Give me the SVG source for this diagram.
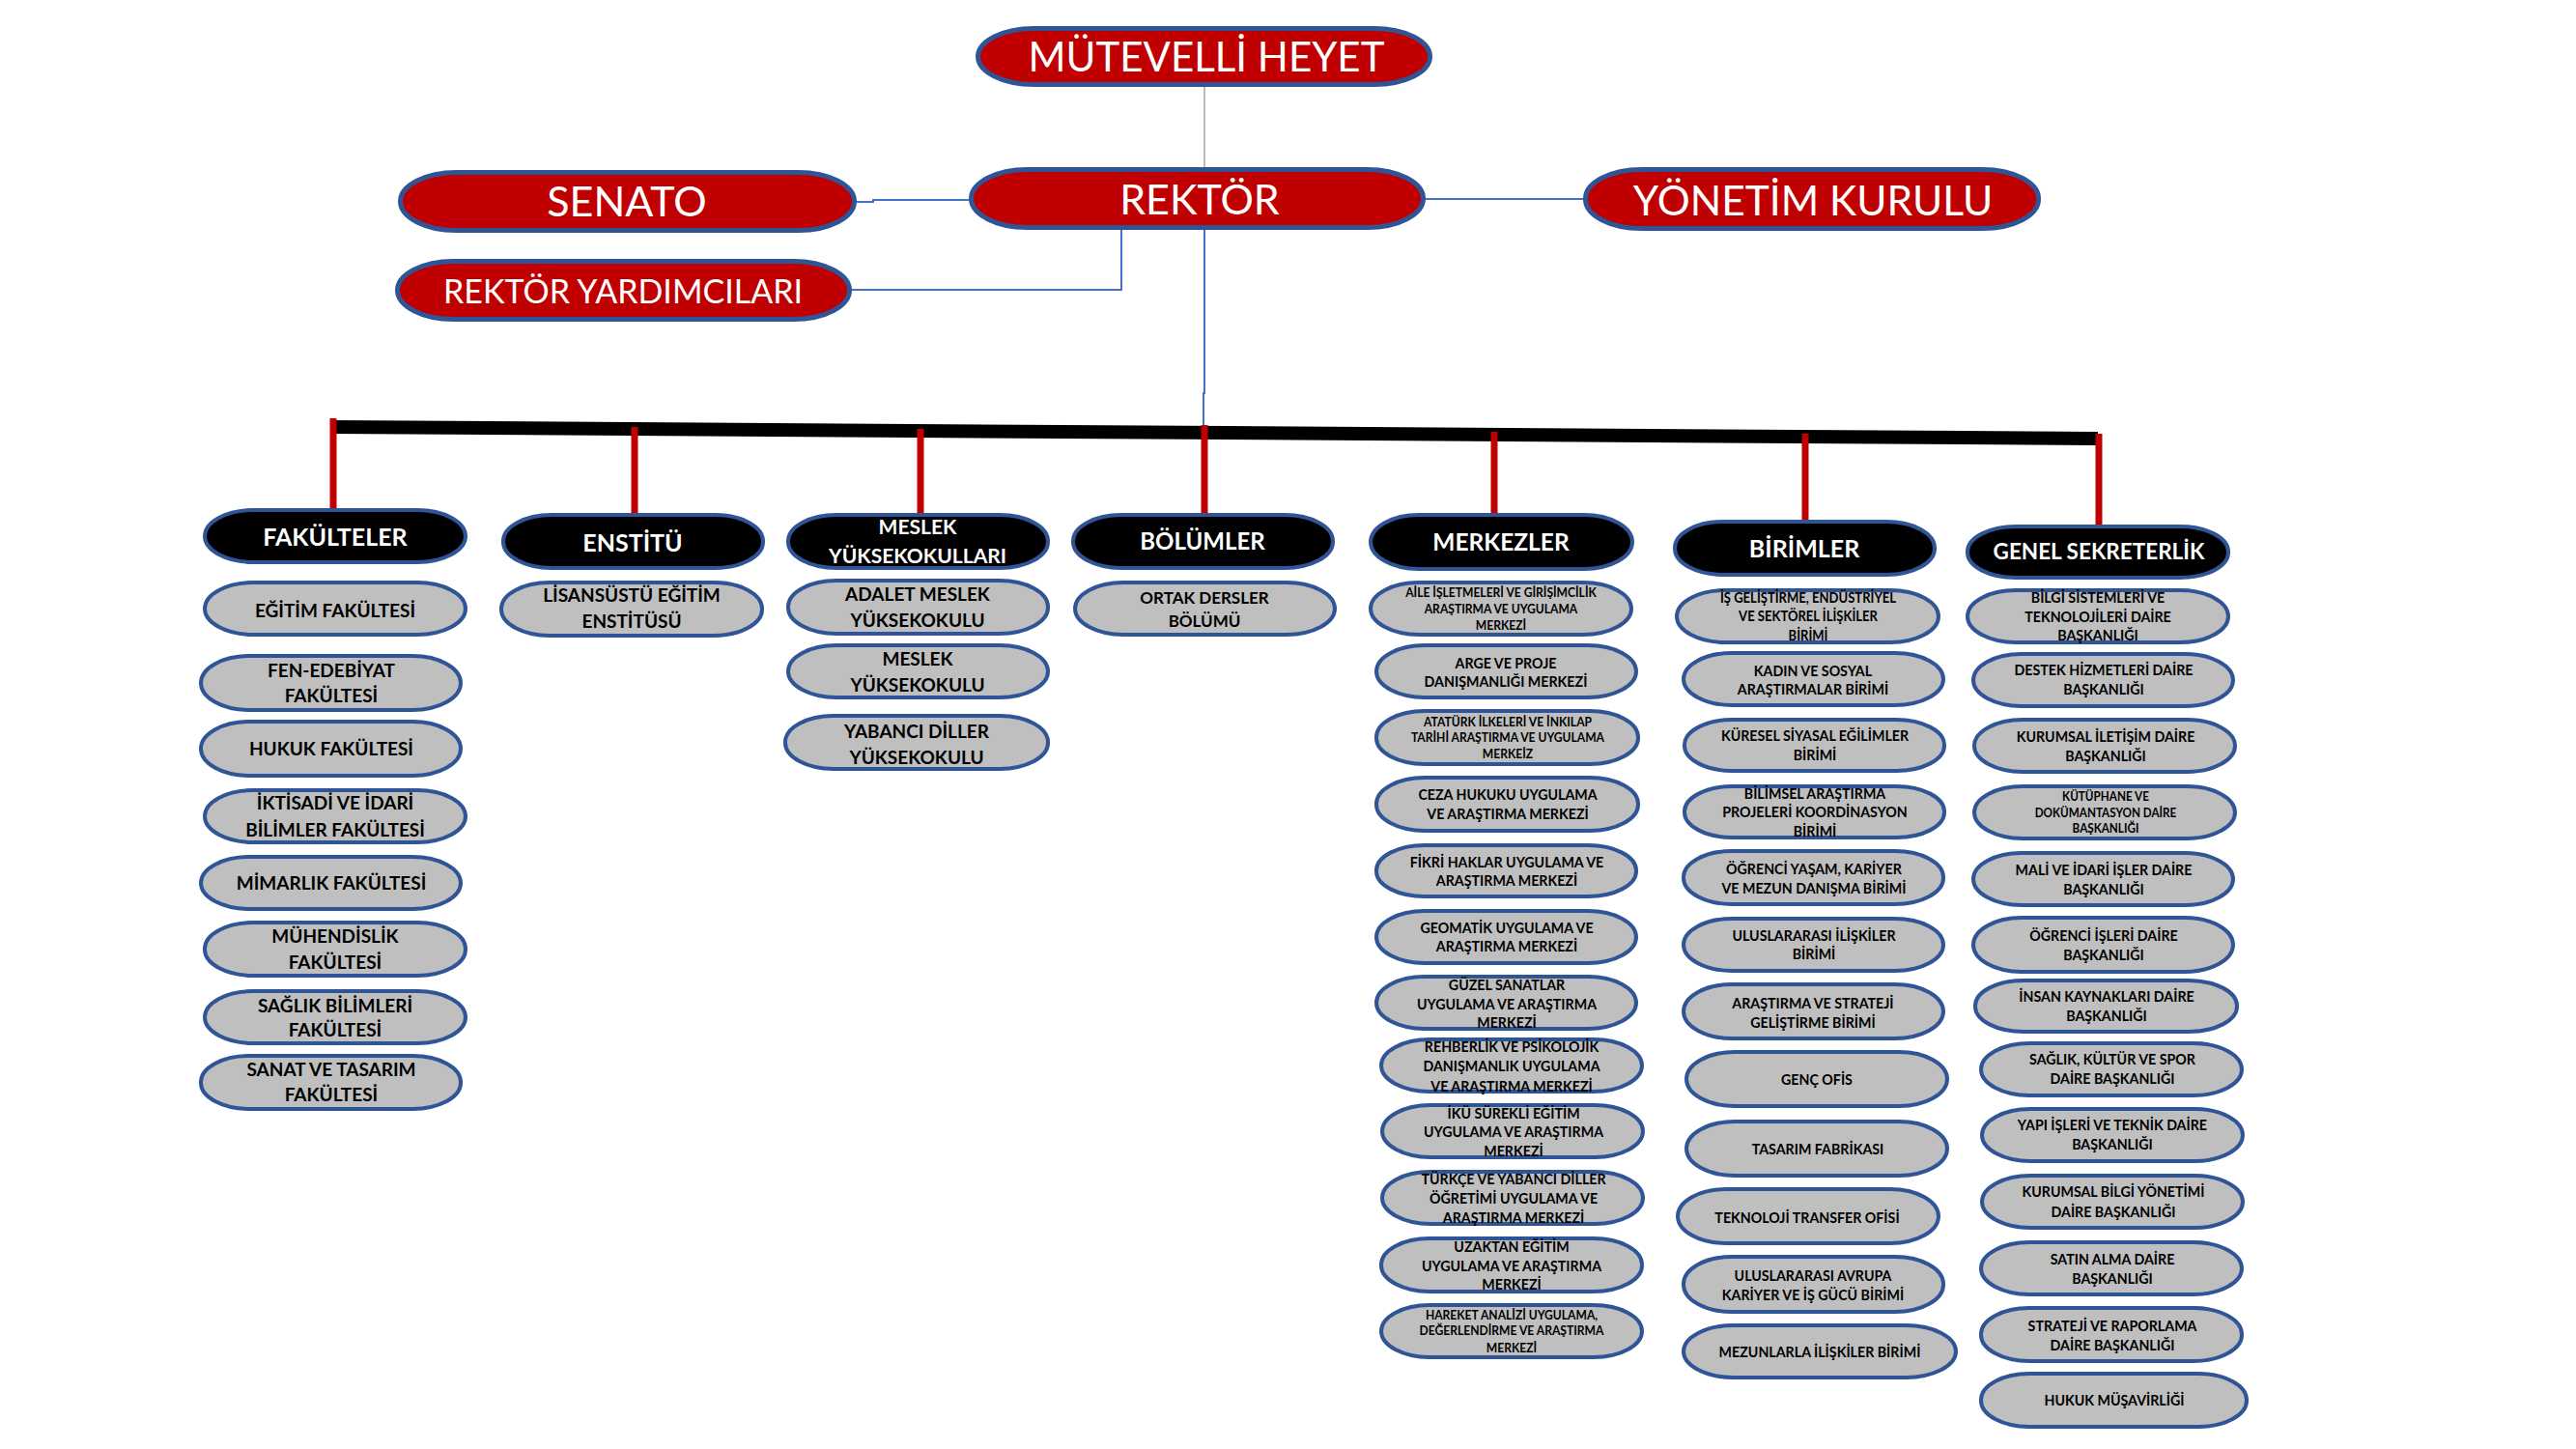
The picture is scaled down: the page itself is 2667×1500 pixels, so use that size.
<svg xmlns="http://www.w3.org/2000/svg" width="2667" height="1500" viewBox="0 0 2667 1500">
<style>
.bg{fill:#fff}
.rd{fill:#C00000;stroke:#2F5597;stroke-width:5}
.hd{fill:#000;stroke:#2F5597;stroke-width:4}
.it{fill:#BFBFBF;stroke:#2F5597;stroke-width:4}
.tt{fill:#fff;font-family:Lato,"Open Sans",sans-serif;text-anchor:middle}
.ht{fill:#fff;font-family:Lato,"Open Sans",sans-serif;font-weight:bold;text-anchor:middle}
.t{fill:#000;font-family:Lato,"Open Sans",sans-serif;font-weight:bold;text-anchor:middle}
.bl{fill:none;stroke:#4472C4;stroke-width:2}
.gl{fill:none;stroke:#A6A6A6;stroke-width:1.5}
.rl{stroke:#C00000;stroke-width:7}
.f19{font-size:19px}.f16{font-size:16px}.f15{font-size:15px}.f13{font-size:13px}
.s89,.s93,.s87,.s90{transform-box:fill-box;transform-origin:center}
.s89{transform:scaleX(.89)}.s93{transform:scaleX(.93)}.s87{transform:scaleX(.87)}.s90{transform:scaleX(.9)}
</style>
<rect class="bg" x="0" y="0" width="2667" height="1500"/>
<g id="connectors">
<line class="gl" x1="1247" y1="90" x2="1247" y2="176"/>
<polyline class="bl" points="887,209 904,209 904,207 1005,207"/>
<line class="bl" x1="1476" y1="206" x2="1641" y2="206"/>
<polyline class="bl" points="1161,238 1161,300 882,300"/>
<polyline class="bl" points="1247,238 1247,407 1246,407 1246,441"/>
<polygon points="342,435 2172,447 2172,461 342,449" fill="#000"/>
<line class="rl" x1="345" y1="433" x2="345" y2="528"/>
<line class="rl" x1="657" y1="442" x2="657" y2="533"/>
<line class="rl" x1="953" y1="444" x2="953" y2="533"/>
<line class="rl" x1="1247" y1="440" x2="1247" y2="533"/>
<line class="rl" x1="1547" y1="447" x2="1547" y2="533"/>
<line class="rl" x1="1869" y1="449" x2="1869" y2="540"/>
<line class="rl" x1="2173" y1="449" x2="2173" y2="545"/>
</g>
<g id="mutevelli-heyet"><rect class="rd" x="1012.5" y="29.5" width="468" height="58" rx="58" ry="29"/><text class="tt" x="1249" y="74" font-size="42">MÜTEVELLİ HEYET</text></g>
<g id="senato"><rect class="rd" x="414.5" y="178.5" width="470" height="60" rx="58" ry="30"/><text class="tt" x="649" y="224" font-size="43">SENATO</text></g>
<g id="rektor"><rect class="rd" x="1005.5" y="175.5" width="468" height="60" rx="58" ry="30"/><text class="tt" x="1242" y="222" font-size="43">REKTÖR</text></g>
<g id="yonetim-kurulu"><rect class="rd" x="1641.5" y="175.5" width="469" height="61" rx="58" ry="30"/><text class="tt" x="1877" y="223" font-size="42.5">YÖNETİM KURULU</text></g>
<g id="rektor-yardimcilari"><rect class="rd" x="411.5" y="270.5" width="468" height="60" rx="58" ry="30"/><text class="tt" x="645" y="314" font-size="34">REKTÖR YARDIMCILARI</text></g>

<g id="fakulteler"><rect class="hd" x="212" y="528" width="270" height="54" rx="50" ry="27"/><text class="ht" x="347" y="565" font-size="25">FAKÜLTELER</text></g>
<g id="egitim"><rect class="it" x="212" y="603" width="270" height="54" rx="50" ry="27"/><text class="t f19" x="347" y="639">EĞİTİM FAKÜLTESİ</text></g>
<g id="fen-edebiyat"><rect class="it" x="208" y="679" width="269" height="56" rx="50" ry="28"/><text class="t f19" x="343" y="701">FEN-EDEBİYAT<tspan x="343" dy="26">FAKÜLTESİ</tspan></text></g>
<g id="hukuk"><rect class="it" x="208" y="747" width="269" height="56" rx="50" ry="28"/><text class="t f19" x="343" y="782">HUKUK FAKÜLTESİ</text></g>
<g id="iktisadi"><rect class="it" x="212" y="818" width="270" height="54" rx="50" ry="27"/><text class="t f19" x="347" y="838">İKTİSADİ VE İDARİ<tspan x="347" dy="28">BİLİMLER FAKÜLTESİ</tspan></text></g>
<g id="mimarlik"><rect class="it" x="208" y="887" width="269" height="54" rx="50" ry="27"/><text class="t f19" x="343" y="921">MİMARLIK FAKÜLTESİ</text></g>
<g id="muhendislik"><rect class="it" x="212" y="955" width="270" height="55" rx="50" ry="27"/><text class="t f19" x="347" y="976">MÜHENDİSLİK<tspan x="347" dy="27">FAKÜLTESİ</tspan></text></g>
<g id="saglik-bilimleri"><rect class="it" x="212" y="1026" width="270" height="54" rx="50" ry="27"/><text class="t f19" x="347" y="1048">SAĞLIK BİLİMLERİ<tspan x="347" dy="25">FAKÜLTESİ</tspan></text></g>
<g id="sanat-tasarim"><rect class="it" x="208" y="1093" width="269" height="55" rx="50" ry="27"/><text class="t f19" x="343" y="1114">SANAT VE TASARIM<tspan x="343" dy="26">FAKÜLTESİ</tspan></text></g>

<g id="enstitu"><rect class="hd" x="521" y="533" width="269" height="55" rx="50" ry="27"/><text class="ht" x="655" y="571" font-size="25">ENSTİTÜ</text></g>
<g id="lisansustu"><rect class="it" x="519" y="603" width="270" height="55" rx="50" ry="27"/><text class="t f19" x="654" y="623">LİSANSÜSTÜ EĞİTİM<tspan x="654" dy="27">ENSTİTÜSÜ</tspan></text></g>

<g id="meslek-yuksekokullari"><rect class="hd" x="816" y="533" width="269" height="55" rx="50" ry="27"/><text class="ht" x="950" y="553" font-size="21">MESLEK<tspan x="950" dy="30">YÜKSEKOKULLARI</tspan></text></g>
<g id="adalet"><rect class="it" x="816" y="601" width="269" height="55" rx="50" ry="27"/><text class="t f19" x="950" y="622">ADALET MESLEK<tspan x="950" dy="27">YÜKSEKOKULU</tspan></text></g>
<g id="meslek-yo"><rect class="it" x="816" y="668" width="269" height="54" rx="50" ry="27"/><text class="t f19" x="950" y="689">MESLEK<tspan x="950" dy="27">YÜKSEKOKULU</tspan></text></g>
<g id="yabanci-diller"><rect class="it" x="813" y="741" width="272" height="55" rx="50" ry="27"/><text class="t f19" x="949" y="764">YABANCI DİLLER<tspan x="949" dy="27">YÜKSEKOKULU</tspan></text></g>

<g id="bolumler"><rect class="hd" x="1111" y="533" width="269" height="55" rx="50" ry="27"/><text class="ht" x="1245" y="569" font-size="24">BÖLÜMLER</text></g>
<g id="ortak-dersler"><rect class="it" x="1113" y="603" width="269" height="54" rx="50" ry="27"/><text class="t" font-size="17" x="1247" y="625">ORTAK DERSLER<tspan x="1247" dy="24">BÖLÜMÜ</tspan></text></g>

<g id="merkezler"><rect class="hd" x="1419" y="533" width="271" height="56" rx="50" ry="28"/><text class="ht" x="1554" y="570" font-size="24.5">MERKEZLER</text></g>
<g id="aile"><rect class="it" x="1419" y="603" width="270" height="54" rx="50" ry="27"/><text class="t f13 s93" x="1554" y="618">AİLE İŞLETMELERİ VE GİRİŞİMCİLİK<tspan x="1554" dy="17">ARAŞTIRMA VE UYGULAMA</tspan><tspan x="1554" dy="17">MERKEZİ</tspan></text></g>
<g id="arge"><rect class="it" x="1425" y="668" width="269" height="54" rx="50" ry="27"/><text class="t f16 s89" x="1559" y="692">ARGE VE PROJE<tspan x="1559" dy="19">DANIŞMANLIĞI MERKEZİ</tspan></text></g>
<g id="ataturk"><rect class="it" x="1425" y="736" width="271" height="55" rx="50" ry="27"/><text class="t f13 s93" x="1561" y="752">ATATÜRK İLKELERİ VE İNKILAP<tspan x="1561" dy="16.5">TARİHİ ARAŞTIRMA VE UYGULAMA</tspan><tspan x="1561" dy="16.5">MERKEİZ</tspan></text></g>
<g id="ceza"><rect class="it" x="1425" y="805" width="271" height="55" rx="50" ry="27"/><text class="t f16 s89" x="1561" y="828">CEZA HUKUKU UYGULAMA<tspan x="1561" dy="20">VE ARAŞTIRMA MERKEZİ</tspan></text></g>
<g id="fikri"><rect class="it" x="1425" y="875" width="269" height="53" rx="50" ry="26"/><text class="t f16 s89" x="1560" y="898">FİKRİ HAKLAR UYGULAMA VE<tspan x="1560" dy="19">ARAŞTIRMA MERKEZİ</tspan></text></g>
<g id="geomatik"><rect class="it" x="1425" y="943" width="269" height="54" rx="50" ry="27"/><text class="t f16 s89" x="1560" y="966">GEOMATİK UYGULAMA VE<tspan x="1560" dy="19">ARAŞTIRMA MERKEZİ</tspan></text></g>
<g id="guzel-sanatlar"><rect class="it" x="1425" y="1011" width="269" height="54" rx="50" ry="27"/><text class="t f16 s89" x="1560" y="1025">GÜZEL SANATLAR<tspan x="1560" dy="20">UYGULAMA VE ARAŞTIRMA</tspan><tspan x="1560" dy="19">MERKEZİ</tspan></text></g>
<g id="rehberlik"><rect class="it" x="1430" y="1076" width="270" height="54" rx="50" ry="27"/><text class="t f16 s89" x="1565" y="1089">REHBERLİK VE PSİKOLOJİK<tspan x="1565" dy="20">DANIŞMANLIK UYGULAMA</tspan><tspan x="1565" dy="21">VE ARAŞTIRMA MERKEZİ</tspan></text></g>
<g id="iku-surekli"><rect class="it" x="1431" y="1144" width="270" height="54" rx="50" ry="27"/><text class="t f16 s89" x="1567" y="1158">İKÜ SÜREKLİ EĞİTİM<tspan x="1567" dy="19.5">UYGULAMA VE ARAŞTIRMA</tspan><tspan x="1567" dy="20">MERKEZİ</tspan></text></g>
<g id="turkce"><rect class="it" x="1431" y="1213" width="270" height="54" rx="50" ry="27"/><text class="t f16 s89" x="1567" y="1226">TÜRKÇE VE YABANCI DİLLER<tspan x="1567" dy="20.5">ÖĞRETİMİ UYGULAMA VE</tspan><tspan x="1567" dy="20">ARAŞTIRMA MERKEZİ</tspan></text></g>
<g id="uzaktan"><rect class="it" x="1430" y="1282" width="270" height="55" rx="50" ry="27"/><text class="t f16 s89" x="1565" y="1296">UZAKTAN EĞİTİM<tspan x="1565" dy="20">UYGULAMA VE ARAŞTIRMA</tspan><tspan x="1565" dy="19.5">MERKEZİ</tspan></text></g>
<g id="hareket"><rect class="it" x="1430" y="1351" width="270" height="54" rx="50" ry="27"/><text class="t f13 s93" x="1565" y="1366">HAREKET ANALİZİ UYGULAMA,<tspan x="1565" dy="16.5">DEĞERLENDİRME VE ARAŞTIRMA</tspan><tspan x="1565" dy="17.5">MERKEZİ</tspan></text></g>

<g id="birimler"><rect class="hd" x="1734" y="540" width="269" height="55" rx="50" ry="27"/><text class="ht" x="1868" y="577" font-size="25">BİRİMLER</text></g>
<g id="is-gelistirme"><rect class="it" x="1736" y="611" width="271" height="54" rx="50" ry="27"/><text class="t f15 s87" x="1872" y="624">İŞ GELİŞTİRME, ENDÜSTRİYEL<tspan x="1872" dy="19.5">VE SEKTÖREL İLİŞKİLER</tspan><tspan x="1872" dy="19.5">BİRİMİ</tspan></text></g>
<g id="kadin"><rect class="it" x="1743" y="676" width="269" height="54" rx="50" ry="27"/><text class="t f16 s89" x="1877" y="700">KADIN VE SOSYAL<tspan x="1877" dy="19">ARAŞTIRMALAR BİRİMİ</tspan></text></g>
<g id="kuresel"><rect class="it" x="1744" y="745" width="269" height="53" rx="50" ry="26"/><text class="t f16 s89" x="1879" y="767">KÜRESEL SİYASAL EĞİLİMLER<tspan x="1879" dy="20">BİRİMİ</tspan></text></g>
<g id="bilimsel"><rect class="it" x="1744" y="814" width="269" height="53" rx="50" ry="26"/><text class="t f16 s89" x="1879" y="827">BİLİMSEL ARAŞTIRMA<tspan x="1879" dy="19.5">PROJELERİ KOORDİNASYON</tspan><tspan x="1879" dy="19.5">BİRİMİ</tspan></text></g>
<g id="ogrenci-yasam"><rect class="it" x="1743" y="881" width="269" height="55" rx="50" ry="27"/><text class="t f16 s89" x="1878" y="905">ÖĞRENCİ YAŞAM, KARİYER<tspan x="1878" dy="20">VE MEZUN DANIŞMA BİRİMİ</tspan></text></g>
<g id="uluslararasi-iliskiler"><rect class="it" x="1743" y="951" width="269" height="54" rx="50" ry="27"/><text class="t f16 s89" x="1878" y="974">ULUSLARARASI İLİŞKİLER<tspan x="1878" dy="19">BİRİMİ</tspan></text></g>
<g id="arastirma-strateji"><rect class="it" x="1743" y="1019" width="269" height="56" rx="50" ry="28"/><text class="t f16 s89" x="1877" y="1044">ARAŞTIRMA VE STRATEJİ<tspan x="1877" dy="20">GELİŞTİRME BİRİMİ</tspan></text></g>
<g id="genc-ofis"><rect class="it" x="1746" y="1089" width="270" height="56" rx="50" ry="28"/><text class="t f16 s89" x="1881" y="1123">GENÇ OFİS</text></g>
<g id="tasarim-fabrikasi"><rect class="it" x="1746" y="1161" width="270" height="56" rx="50" ry="28"/><text class="t f16 s89" x="1882" y="1195">TASARIM FABRİKASI</text></g>
<g id="teknoloji-transfer"><rect class="it" x="1737" y="1231" width="270" height="56" rx="50" ry="28"/><text class="t f16 s89" x="1871" y="1266">TEKNOLOJİ TRANSFER OFİSİ</text></g>
<g id="uluslararasi-avrupa"><rect class="it" x="1743" y="1301" width="269" height="57" rx="50" ry="28"/><text class="t f16 s89" x="1877" y="1326">ULUSLARARASI AVRUPA<tspan x="1877" dy="20">KARİYER VE İŞ GÜCÜ BİRİMİ</tspan></text></g>
<g id="mezunlarla"><rect class="it" x="1743" y="1372" width="282" height="54" rx="52" ry="27"/><text class="t f16 s89" x="1884" y="1405">MEZUNLARLA İLİŞKİLER BİRİMİ</text></g>

<g id="genel-sekreterlik"><rect class="hd" x="2037" y="545" width="270" height="53" rx="50" ry="26"/><text class="ht" x="2173" y="579" font-size="22.5">GENEL SEKRETERLİK</text></g>
<g id="bilgi-sistemleri"><rect class="it" x="2037" y="611" width="270" height="54" rx="50" ry="27"/><text class="t f16 s89" x="2172" y="624">BİLGİ SİSTEMLERİ VE<tspan x="2172" dy="20">TEKNOLOJİLERİ DAİRE</tspan><tspan x="2172" dy="19">BAŞKANLIĞI</tspan></text></g>
<g id="destek"><rect class="it" x="2043" y="677" width="269" height="54" rx="50" ry="27"/><text class="t f16 s89" x="2178" y="699">DESTEK HİZMETLERİ DAİRE<tspan x="2178" dy="20">BAŞKANLIĞI</tspan></text></g>
<g id="kurumsal-iletisim"><rect class="it" x="2044" y="745" width="270" height="54" rx="50" ry="27"/><text class="t f16 s89" x="2180" y="768">KURUMSAL İLETİŞİM DAİRE<tspan x="2180" dy="20">BAŞKANLIĞI</tspan></text></g>
<g id="kutuphane"><rect class="it" x="2044" y="814" width="270" height="54" rx="50" ry="27"/><text class="t f13 s90" x="2180" y="829">KÜTÜPHANE VE<tspan x="2180" dy="17">DOKÜMANTASYON DAİRE</tspan><tspan x="2180" dy="16">BAŞKANLIĞI</tspan></text></g>
<g id="mali-idari"><rect class="it" x="2043" y="883" width="269" height="54" rx="50" ry="27"/><text class="t f16 s89" x="2178" y="906">MALİ VE İDARİ İŞLER DAİRE<tspan x="2178" dy="20">BAŞKANLIĞI</tspan></text></g>
<g id="ogrenci-isleri"><rect class="it" x="2043" y="950" width="269" height="56" rx="50" ry="28"/><text class="t f16 s89" x="2178" y="974">ÖĞRENCİ İŞLERİ DAİRE<tspan x="2178" dy="20">BAŞKANLIĞI</tspan></text></g>
<g id="insan-kaynaklari"><rect class="it" x="2045" y="1015" width="271" height="53" rx="50" ry="26"/><text class="t f16 s89" x="2181" y="1037">İNSAN KAYNAKLARI DAİRE<tspan x="2181" dy="20">BAŞKANLIĞI</tspan></text></g>
<g id="saglik-kultur"><rect class="it" x="2051" y="1080" width="270" height="54" rx="50" ry="27"/><text class="t f16 s89" x="2187" y="1102">SAĞLIK, KÜLTÜR VE SPOR<tspan x="2187" dy="20">DAİRE BAŞKANLIĞI</tspan></text></g>
<g id="yapi-isleri"><rect class="it" x="2052" y="1148" width="270" height="54" rx="50" ry="27"/><text class="t f16 s89" x="2187" y="1170">YAPI İŞLERİ VE TEKNİK DAİRE<tspan x="2187" dy="20">BAŞKANLIĞI</tspan></text></g>
<g id="kurumsal-bilgi"><rect class="it" x="2052" y="1217" width="270" height="54" rx="50" ry="27"/><text class="t f16 s89" x="2188" y="1239">KURUMSAL BİLGİ YÖNETİMİ<tspan x="2188" dy="21">DAİRE BAŞKANLIĞI</tspan></text></g>
<g id="satin-alma"><rect class="it" x="2051" y="1286" width="270" height="54" rx="50" ry="27"/><text class="t f16 s89" x="2187" y="1309">SATIN ALMA DAİRE<tspan x="2187" dy="20">BAŞKANLIĞI</tspan></text></g>
<g id="strateji-raporlama"><rect class="it" x="2051" y="1354" width="270" height="55" rx="50" ry="27"/><text class="t f16 s89" x="2187" y="1378">STRATEJİ VE RAPORLAMA<tspan x="2187" dy="20">DAİRE BAŞKANLIĞI</tspan></text></g>
<g id="hukuk-musavirligi"><rect class="it" x="2051" y="1422" width="275" height="55" rx="50" ry="27"/><text class="t f16 s89" x="2189" y="1455">HUKUK MÜŞAVİRLİĞİ</text></g>
</svg>
